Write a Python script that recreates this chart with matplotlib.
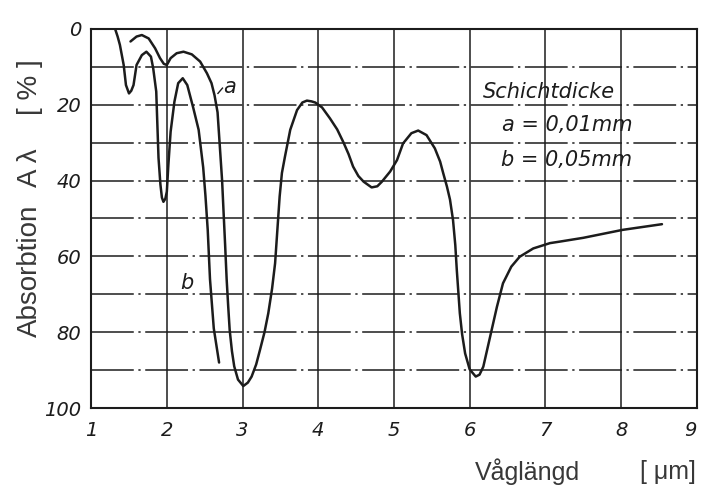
import matplotlib.pyplot as plt

# Curve a: layer thickness 0.01 mm (wavelength in um, absorption in %)
a_x = [1.52, 1.60, 1.67, 1.76, 1.845, 1.91, 1.96, 2.00, 2.05, 2.13, 2.22,
       2.33, 2.44, 2.53, 2.59, 2.63, 2.67, 2.70, 2.73, 2.75, 2.77, 2.79,
       2.81, 2.83, 2.86, 2.89, 2.94, 3.01, 3.07, 3.12, 3.18, 3.23, 3.29,
       3.34, 3.39, 3.43, 3.46, 3.49, 3.52, 3.56, 3.63, 3.72, 3.79, 3.85,
       3.91, 3.96, 4.05, 4.155, 4.25, 4.33, 4.40, 4.46, 4.53, 4.60, 4.705,
       4.78, 4.84, 4.95, 5.04, 5.12, 5.23, 5.32, 5.43, 5.54, 5.61, 5.65,
       5.70, 5.74, 5.78, 5.81, 5.83, 5.87, 5.90, 5.94, 6.00, 6.08, 6.13,
       6.18, 6.27, 6.36, 6.44, 6.55, 6.66, 6.84, 7.06, 7.19, 7.50, 8.02,
       8.54]
a_y = [3.3, 2.0, 1.6, 2.5, 5.1, 7.7, 9.2, 9.5, 7.7, 6.4, 6.0,
       6.7, 8.6, 11.7, 14.3, 17.5, 22.0, 31.0, 40.0, 48.6, 57.0, 66.0,
       73.0, 79.4, 85.0, 89.0, 92.5, 94.2, 93.3, 91.7, 88.5, 84.7, 80.0,
       75.0, 68.5, 61.8, 53.0, 44.2, 38.0, 33.7, 26.6, 21.4, 19.4, 18.9,
       19.1, 19.4, 20.7, 23.6, 26.5, 29.8, 33.0, 36.3, 38.8, 40.3, 41.8,
       41.5, 40.3, 37.6, 34.6, 30.2, 27.5, 26.8, 28.0, 31.5, 35.0, 38.0,
       41.6, 45.0, 50.4, 57.0, 63.6, 75.0, 80.5, 85.6, 89.8, 91.7, 91.2,
       89.1, 81.2, 73.3, 67.1, 62.7, 60.1, 57.9, 56.5, 56.1, 55.1, 53.0,
       51.5]

# Curve b: layer thickness 0.05 mm
b_x = [1.317, 1.35, 1.38, 1.43, 1.46, 1.50, 1.53, 1.56, 1.60, 1.67, 1.73,
       1.79, 1.82, 1.86, 1.875, 1.89, 1.915, 1.935, 1.955, 1.98, 2.00,
       2.02, 2.05, 2.10, 2.15, 2.21, 2.27, 2.35, 2.42, 2.48, 2.51, 2.54,
       2.57, 2.62, 2.69]
b_y = [0.0, 2.0, 4.2, 9.5, 14.8, 17.0, 16.3, 14.8, 9.5, 6.9, 6.0,
       7.3, 10.4, 16.5, 25.3, 34.0, 41.0, 44.5, 45.6, 44.8, 42.9,
       35.9, 27.1, 19.2, 14.3, 13.0, 14.8, 20.9, 26.6, 36.5, 44.0, 53.0,
       66.0, 79.0, 88.0]

x_ticks = [1, 2, 3, 4, 5, 6, 7, 8, 9]
y_ticks = [0, 20, 40, 60, 80, 100]
y_grid = [10, 20, 30, 40, 50, 60, 70, 80, 90]

ink = "#1c1c1c"
label_ink = "#383838"
W, H = 701, 491

figure, axes = plt.subplots(figsize=(7.01, 4.91), dpi=100)
figure.subplots_adjust(left=0.13, right=0.994, top=0.941, bottom=0.169)

# Grid: solid verticals, dash-dot horizontals
for gx in x_ticks[1:-1]:
    axes.axvline(gx, color=ink, lw=1.1, zorder=1)
for gy in y_grid:
    axes.axhline(gy, color=ink, lw=1.1, ls=(0, (28, 3, 1.5, 3)), zorder=1)

axes.plot(a_x, a_y, color=ink, lw=1.8, solid_joinstyle="round",
          solid_capstyle="round", zorder=3)
axes.plot(b_x, b_y, color=ink, lw=1.8, solid_joinstyle="round",
          solid_capstyle="round", zorder=3)

axes.set_xlim(1, 9)
axes.set_ylim(100, 0)
axes.set_xticks(x_ticks)
axes.set_yticks(y_ticks)
axes.tick_params(length=0, labelsize=14, colors=ink)
axes.tick_params(axis="x", pad=9)
axes.tick_params(axis="y", pad=7)
for lab in axes.get_xticklabels() + axes.get_yticklabels():
    lab.set_fontstyle("italic")
# last x label sits inside the right edge, as in the original
axes.get_xticklabels()[-1].set_horizontalalignment("right")
for spine in axes.spines.values():
    spine.set_color(ink)
    spine.set_linewidth(1.5)

# Curve labels and legend text
axes.text(2.74, 15.3, "a", fontsize=15, style="italic", color=ink,
          va="center")
axes.plot([2.675, 2.735], [17.0, 15.6], color=ink, lw=1)
axes.text(2.27, 67, "b", fontsize=15, style="italic", color=ink,
          ha="center", va="center")
axes.text(6.17, 16.6, "Schichtdicke", fontsize=15, style="italic",
          color=ink, va="center")
axes.text(6.43, 25.3, "a = 0,01mm", fontsize=15, style="italic",
          color=ink, va="center")
axes.text(6.42, 34.6, "b = 0,05mm", fontsize=15, style="italic",
          color=ink, va="center")

# Axis titles, placed piece by piece as in the original
for txt, yc in [("Absorbtion", 271), ("A \u03bb", 168), ("[ % ]", 87)]:
    figure.text(30 / W, 1 - yc / H, txt, family="Liberation Sans",
                fontsize=20, rotation=90, ha="center", va="center",
                color=label_ink)
figure.text(527 / W, 1 - 472 / H, "Våglängd", family="Liberation Sans",
            fontsize=18, ha="center", va="center", color=label_ink)
figure.text(668 / W, 1 - 472 / H, "[ \u03bcm]", family="Liberation Sans",
            fontsize=18, ha="center", va="center", color=label_ink)

plt.savefig("out.png", dpi=100)
